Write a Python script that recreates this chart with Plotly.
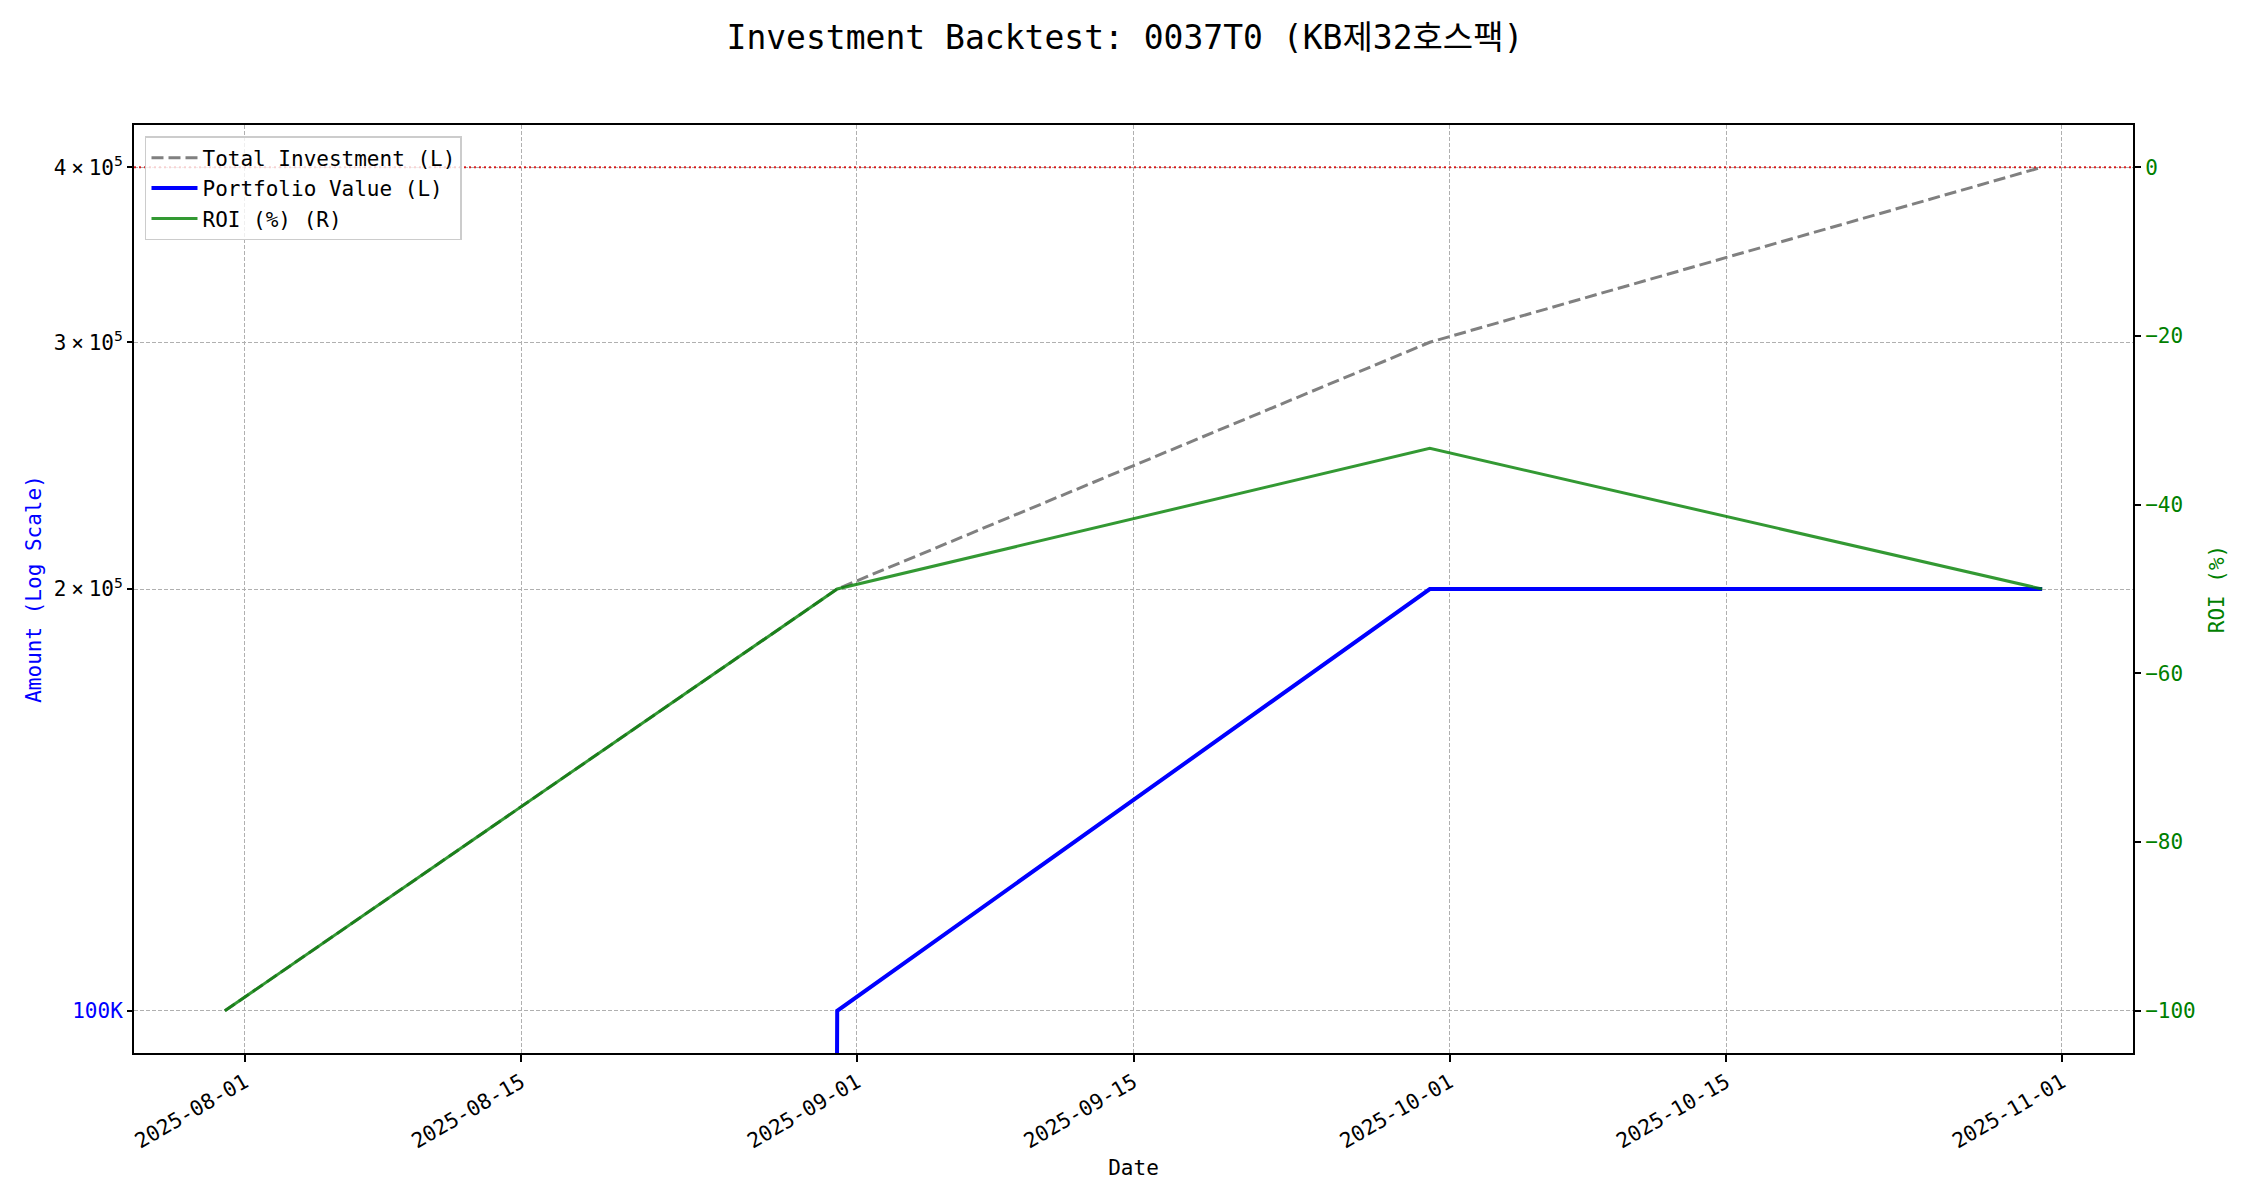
import plotly.graph_objects as go

# ---- data ----
dates = ["2025-07-31", "2025-08-31", "2025-09-30", "2025-10-31"]
total_investment = [100000, 200000, 300000, 400000]
portfolio_value = [0, 100000, 200000, 200000]
roi_pct = [-100.0, -50.0, -33.33, -50.0]

x_tick_vals = ["2025-08-01", "2025-08-15", "2025-09-01", "2025-09-15",
               "2025-10-01", "2025-10-15", "2025-11-01"]
y_tick_vals = [100000, 200000, 300000, 400000]
SP = "<span style='font-size:8px'> </span>"
y_tick_text = ["<span style='color:blue'>100K</span>",
               "2" + SP + "×" + SP + "10<sup>5</sup>",
               "3" + SP + "×" + SP + "10<sup>5</sup>",
               "4" + SP + "×" + SP + "10<sup>5</sup>"]
roi_tick_vals = [0, -20, -40, -60, -80, -100]

FONT = "DejaVu Sans Mono, Noto Sans CJK KR, sans-serif"

# zero values cannot sit on a log axis; push them far below the visible range
portfolio_plot = [v if v > 0 else 1e-100 for v in portfolio_value]

fig = go.Figure()
fig.add_trace(go.Scatter(
    x=dates, y=total_investment, mode="lines", name="Total Investment (L)",
    line=dict(color="#808080", width=3, dash="12px,5px"), yaxis="y"))
fig.add_trace(go.Scatter(
    x=dates, y=portfolio_plot, mode="lines", name="Portfolio Value (L)",
    line=dict(color="#0000ff", width=4), yaxis="y"))
fig.add_trace(go.Scatter(
    x=dates, y=roi_pct, mode="lines", name="ROI (%) (R)",
    line=dict(color="rgba(0,128,0,0.8)", width=3), yaxis="y2"))

fig.add_shape(type="line", xref="x domain", x0=0, x1=1, yref="y2", y0=0, y1=0,
              line=dict(color="rgba(220,0,0,0.85)", width=2, dash="2px,3px"),
              layer="above")

# page body adds an 8px offset; margins compensate
fig.update_layout(
    width=2250, height=1200,
    paper_bgcolor="white", plot_bgcolor="white",
    font=dict(family=FONT, size=21, color="black"),
    margin=dict(l=126, r=125, t=117, b=155),
    title=dict(text="Investment Backtest: 0037T0 (KB제32호스팩)",
               x=(1125 - 8) / 2250, xanchor="center", y=1 - 29 / 1200, yanchor="middle",
               yref="container", font=dict(family=FONT, size=33, color="black")),
    showlegend=True,
    legend=dict(x=0.0055, y=0.988, xanchor="left", yanchor="top",
                bgcolor="rgba(255,255,255,0.8)", bordercolor="#cccccc",
                borderwidth=1.5, font=dict(family=FONT, size=21), itemwidth=46),
    xaxis=dict(
        type="date",
        range=["2025-07-26 09:36", "2025-11-04 14:24"],
        tickvals=x_tick_vals, tickformat="%Y-%m-%d", tickangle=-30,
        ticks="outside", ticklen=7, tickwidth=1.6, tickcolor="black",
        showline=True, linecolor="black", linewidth=2, mirror=True,
        showgrid=True, gridcolor="#b0b0b0", gridwidth=1, griddash="4px,2px",
        zeroline=False,
        title=dict(text="Date", standoff=8, font=dict(size=21)),
    ),
    yaxis=dict(
        type="log", range=[4.96990, 5.63216],
        tickvals=y_tick_vals, ticktext=y_tick_text,
        ticks="outside", ticklen=5, tickwidth=1.6, tickcolor="black",
        showline=True, linecolor="black", linewidth=2, mirror=True,
        showgrid=True, gridcolor="#b0b0b0", gridwidth=1, griddash="4px,2px",
        zeroline=False,
        title=dict(text="Amount (Log Scale)", font=dict(color="blue", size=21),
                   standoff=6),
    ),
    yaxis2=dict(
        overlaying="y", side="right", range=[-105, 5],
        tickvals=roi_tick_vals,
        ticks="outside", ticklen=7, tickwidth=1.6, tickcolor="black",
        tickfont=dict(color="green", size=21),
        showline=False, showgrid=False, zeroline=False,
        title=dict(text="ROI (%)", font=dict(color="green", size=21), standoff=14),
    ),
)

fig.write_html("out.html")
